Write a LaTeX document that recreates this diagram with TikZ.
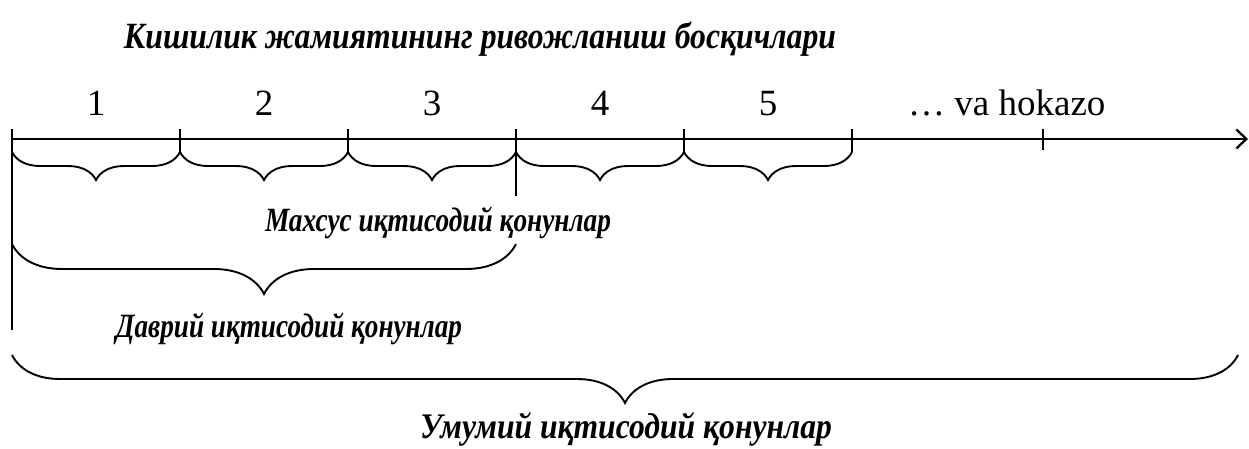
\documentclass[tikz,border=0pt]{standalone}
\usepackage{fontspec}
\setmainfont{Liberation Serif}
\usetikzlibrary{decorations.pathreplacing,arrows.meta}
\newcommand{\fitw}[2]{\resizebox{#1}{\height}{#2}}
\tikzset{
  axisline/.style={line width=2.3pt},
  tickline/.style={line width=1.9pt},
  bracestyle/.style={line width=1.9pt, decorate, decoration={brace, amplitude=#1}},
  lbl/.style={font=\bfseries\itshape\fontsize{34}{34}\selectfont, anchor=base, inner sep=0pt},
  ttl/.style={font=\bfseries\itshape\fontsize{37}{37}\selectfont, anchor=base, inner sep=0pt},
  num/.style={font=\fontsize{37}{37}\selectfont, anchor=base, inner sep=0pt}
}
\begin{document}
\begin{tikzpicture}[x=1pt,y=-1pt]
\useasboundingbox (0,0) rectangle (1249,448);
% title
\node[ttl] (title) at (480,48) {\fitw{712pt}{Кишилик жамиятининг ривожланиш босқичлари}};
% numbers
\node[num] (n1) at (96,115) {1};
\node[num] (n2) at (264,115) {2};
\node[num] (n3) at (432,115) {3};
\node[num] (n4) at (600,115) {4};
\node[num] (n5) at (768,115) {5};
\node[num, anchor=base west] (n6) at (908,115) {… va hokazo};
% axis
\coordinate (start) at (12,139);
\coordinate (end) at (1248,139);
\draw[axisline, -{Straight Barb[length=10pt,width=19pt]}] (start) -- (end);
% ticks
\coordinate (k0t) at (12,129);   \coordinate (k0b) at (12,330);
\coordinate (k1t) at (180,129);  \coordinate (k1b) at (180,152);
\coordinate (k2t) at (348,129);  \coordinate (k2b) at (348,152);
\coordinate (k3t) at (516,129);  \coordinate (k3b) at (516,196);
\coordinate (k4t) at (684,129);  \coordinate (k4b) at (684,152);
\coordinate (k5t) at (852,129);  \coordinate (k5b) at (852,152);
\coordinate (k6t) at (1043,129); \coordinate (k6b) at (1043,150);
\foreach \i in {0,...,6} \draw[tickline] (k\i t) -- (k\i b);
% small braces
\coordinate (b0) at (12,152);
\coordinate (b1) at (180,152);
\coordinate (b2) at (348,152);
\coordinate (b3) at (516,152);
\coordinate (b4) at (684,152);
\coordinate (b5) at (852,152);
\foreach \i/\j in {1/0,2/1,3/2,4/3,5/4} \draw[bracestyle=28pt] (b\i) -- (b\j);
% middle brace
\coordinate (m0) at (12,244);
\coordinate (m1) at (516,244);
\draw[bracestyle=50pt] (m1) -- (m0);
% big brace
\coordinate (g0) at (12,355);
\coordinate (g1) at (1238,355);
\draw[bracestyle=48pt] (g1) -- (g0);
% labels
\node[lbl] (mahsus) at (438,231) {\fitw{346pt}{Махсус иқтисодий қонунлар}};
\node[lbl] (davriy) at (289,337) {\fitw{346pt}{Даврий иқтисодий қонунлар}};
\node[lbl] (umumiy) at (626,438) {\fitw{412pt}{\fontsize{36}{36}\selectfont Умумий иқтисодий қонунлар}};
\end{tikzpicture}
\end{document}
